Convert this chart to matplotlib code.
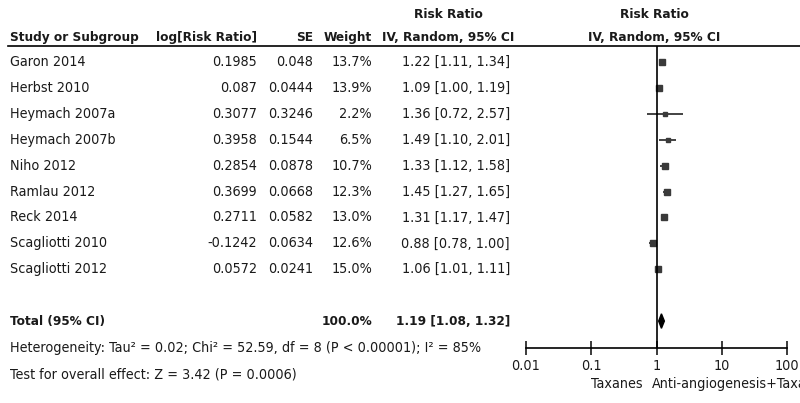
import matplotlib.pyplot as plt
import matplotlib.transforms as mtransforms
from matplotlib.patches import Polygon

# datos del forest plot
studies = ["Garon 2014", "Herbst 2010", "Heymach 2007a", "Heymach 2007b", "Niho 2012",
           "Ramlau 2012", "Reck 2014", "Scagliotti 2010", "Scagliotti 2012"]
log_rr = ["0.1985", "0.087", "0.3077", "0.3958", "0.2854", "0.3699", "0.2711", "-0.1242", "0.0572"]
se = ["0.048", "0.0444", "0.3246", "0.1544", "0.0878", "0.0668", "0.0582", "0.0634", "0.0241"]
weight = [13.7, 13.9, 2.2, 6.5, 10.7, 12.3, 13.0, 12.6, 15.0]
rr = [1.22, 1.09, 1.36, 1.49, 1.33, 1.45, 1.31, 0.88, 1.06]
lo = [1.11, 1.00, 0.72, 1.10, 1.12, 1.27, 1.17, 0.78, 1.01]
hi = [1.34, 1.19, 2.57, 2.01, 1.58, 1.65, 1.47, 1.00, 1.11]
total = (1.19, 1.08, 1.32)
total_weight = "100.0%"
ticks = [0.01, 0.1, 1, 10, 100]
tick_labels = ["0.01", "0.1", "1", "10", "100"]

plt.rcParams['font.family'] = ['DejaVu Sans']
plt.rcParams['font.stretch'] = 'condensed'
fs = 10.3
fs_b = 9.7
col = '#1a1a1a'

fig = plt.figure(figsize=(8, 4.03), dpi=100)
W, H = 800, 403
ax = fig.add_axes([526 / W, 1 - 348 / H, (787 - 526) / W, (348 - 46) / H])
ax.set_xscale('log')
ax.set_xlim(0.01, 100)
ax.set_ylim(11.04, -0.62)

# cuadrados e intervalos
for i in range(len(studies)):
    ax.plot([lo[i], hi[i]], [i, i], color='#222222', lw=1.2, solid_capstyle='butt')
    ax.plot(rr[i], i, marker='s', color='#3a3a3a', markersize=2.0 + weight[i] * 0.2, linestyle='none')

# rombo del total
ty = len(studies) + 1
ax.add_patch(Polygon([(total[1], ty), (total[0], ty - 0.28), (total[2], ty), (total[0], ty + 0.28)],
                     closed=True, color='black'))
ax.axvline(1, color='black', lw=1.2)

for s in ['top', 'right', 'left']:
    ax.spines[s].set_visible(False)
ax.spines['bottom'].set_linewidth(1.2)
ax.set_yticks([])
ax.set_xticks(ticks)
ax.set_xticklabels(tick_labels)
ax.minorticks_off()
ax.tick_params(axis='x', direction='inout', length=10, width=1.2, labelsize=fs, colors=col, pad=3)

tr = mtransforms.blended_transform_factory(fig.transFigure, ax.transData)

def px(x):
    return x / W

def txt(x, y, s, ha='left', bold=False, **kw):
    fig.text(px(x), y, s, transform=kw.pop('transform', tr), ha=ha, va='center',
             fontsize=fs_b if bold else fs, weight='bold' if bold else 'normal', color=col, **kw)

# encabezados
hy1, hy2 = -1.85, -0.93
txt(10, hy2, "Study or Subgroup", bold=True)
txt(257, hy2, "log[Risk Ratio]", ha='right', bold=True)
txt(313, hy2, "SE", ha='right', bold=True)
txt(372, hy2, "Weight", ha='right', bold=True)
txt(448, hy2, "IV, Random, 95% CI", ha='center', bold=True)
txt(448, hy1, "Risk Ratio", ha='center', bold=True)
txt(654, hy2, "IV, Random, 95% CI", ha='center', bold=True)
txt(654, hy1, "Risk Ratio", ha='center', bold=True)
fig.add_artist(plt.Line2D([px(8), px(800)], [1 - 46 / H, 1 - 46 / H], color='black', lw=1.2))

# filas
for i, name in enumerate(studies):
    txt(10, i, name)
    txt(257, i, log_rr[i], ha='right')
    txt(313, i, se[i], ha='right')
    txt(372, i, f"{weight[i]:.1f}%", ha='right')
    txt(510, i, f"{rr[i]:.2f} [{lo[i]:.2f}, {hi[i]:.2f}]", ha='right')

txt(10, ty, "Total (95% CI)", bold=True)
txt(372, ty, total_weight, ha='right', bold=True)
txt(510, ty, f"{total[0]:.2f} [{total[1]:.2f}, {total[2]:.2f}]", ha='right', bold=True)
txt(10, ty + 1.04, "Heterogeneity: Tau² = 0.02; Chi² = 52.59, df = 8 (P < 0.00001); I² = 85%")
txt(10, ty + 2.08, "Test for overall effect: Z = 3.42 (P = 0.0006)")

txt(643, 1 - 384 / H, "Taxanes", ha='right', transform=fig.transFigure)
txt(652, 1 - 384 / H, "Anti-angiogenesis+Taxanes", transform=fig.transFigure)

fig.savefig("out.png", dpi=100)
